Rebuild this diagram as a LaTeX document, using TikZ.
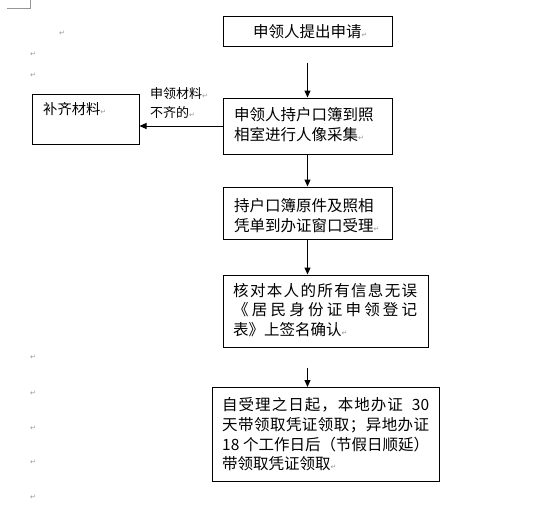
\documentclass[tikz,border=0pt]{standalone}
\usepackage{fontspec}
\setmainfont{Noto Sans CJK SC}
\newfontfamily\markfont{DejaVu Sans}
\usetikzlibrary{arrows.meta}
\definecolor{markgray}{RGB}{150,150,150}
\newcommand{\parmark}{{\markfont\fontsize{7}{7}\selectfont\color{markgray}\raisebox{0pt}{↵}}}
\tikzset{
  x=1pt, y=-1pt,
  box/.style={draw=black, line width=1pt, inner sep=0pt, fill=white},
  txt/.style={anchor=base west, inner sep=0pt, font=\fontsize{15.5}{19}\selectfont},
  lbl/.style={anchor=base west, inner sep=0pt, font=\fontsize{13}{16}\selectfont},
  pmark/.style={anchor=base west, inner sep=0pt},
  arr/.style={line width=1pt, -{Triangle[length=7pt,width=6pt]}},
  corner/.style={draw=markgray, line width=0.8pt}
}
\begin{document}
\begin{tikzpicture}
\useasboundingbox[fill=white] (0,0) rectangle (539,515);

% crop mark
\coordinate (c1) at (7,8);
\coordinate (c2) at (30,8);
\coordinate (c3) at (30,0);
\draw[corner] (c1) -- (c2) -- (c3);

% boxes
\node[box, minimum width=169pt, minimum height=30pt] (b1) at (307.5,31) {};
\node[box, minimum width=169pt, minimum height=56pt] (b2) at (307.5,126) {};
\node[box, minimum width=169pt, minimum height=52pt] (b3) at (307.5,213) {};
\node[box, minimum width=205pt, minimum height=72pt] (b4) at (325.5,311) {};
\node[box, minimum width=227pt, minimum height=94pt] (b5) at (325.5,434.5) {};
\node[box, minimum width=107pt, minimum height=50pt] (bq) at (85.5,119) {};

% texts
\node[txt] (t1) at (253,37) {申领人提出申请\parmark};

\node[txt] (t2a) at (234,120.5) {申领人持户口簿到照};
\node[txt] (t2b) at (234,140.5) {相室进行人像采集\parmark};

\node[txt] (t3a) at (234,211) {持户口簿原件及照相};
\node[txt] (t3b) at (234,231.5) {凭单到办证窗口受理\parmark};

\node[txt] (t4a) at (233,296) {\makebox[184pt][s]{核\hfill 对\hfill 本\hfill 人\hfill 的\hfill 所\hfill 有\hfill 信\hfill 息\hfill 无\hfill 误}};
\node[txt] (t4b) at (233,315.5) {\makebox[184pt][s]{《\hfill 居\hfill 民\hfill 身\hfill 份\hfill 证\hfill 申\hfill 领\hfill 登\hfill 记}};
\node[txt] (t4c) at (233,335) {表》上签名确认\parmark};

\node[txt] (t5a) at (222,410.5) {\makebox[207pt][s]{自\hfil 受\hfil 理\hfil 之\hfil 日\hfil 起\hfil ，\hfil 本\hfil 地\hfil 办\hfil 证\hspace{8pt}\hfil 30}};
\node[txt] (t5b) at (222,430.5) {\makebox[207pt][s]{天\hfill 带\hfill 领\hfill 取\hfill 凭\hfill 证\hfill 领\hfill 取\hfill ；\hfill 异\hfill 地\hfill 办\hfill 证}};
\node[txt] (t5c) at (222,450) {\makebox[207pt][s]{18\hfill 个工作日后（节假日顺延）}};
\node[txt] (t5d) at (222,469.5) {带领取凭证领取\parmark};

\node[txt, font=\fontsize{14.3}{17}\selectfont] (tq) at (43,114) {补齐材料\parmark};

\node[lbl] (l1) at (150,98) {申领材料\parmark};
\node[lbl] (l2) at (150,117) {不齐的\parmark};

% margin paragraph marks
\node[pmark] (m1) at (59,35) {\parmark};
\node[pmark] (m2) at (30,56) {\parmark};
\node[pmark] (m3) at (30,77) {\parmark};
\node[pmark] (m4) at (30,359) {\parmark};
\node[pmark] (m5) at (30,395) {\parmark};
\node[pmark] (m6) at (30,430) {\parmark};
\node[pmark] (m7) at (30,464) {\parmark};
\node[pmark] (m8) at (30,499) {\parmark};

% connectors
\draw[arr, shorten <=16pt] (b1.south) -- (b2.north);
\draw[arr] (b2.south) -- (b3.north);
\draw[arr] (b3.south) -- (b3.south |- b4.north);
\draw[arr, shorten <=20pt] (b4.south -| b3.south) -- (b3.south |- b5.north);
\draw[arr] (b2.west) -- (b2.west -| bq.east);
\end{tikzpicture}
\end{document}
